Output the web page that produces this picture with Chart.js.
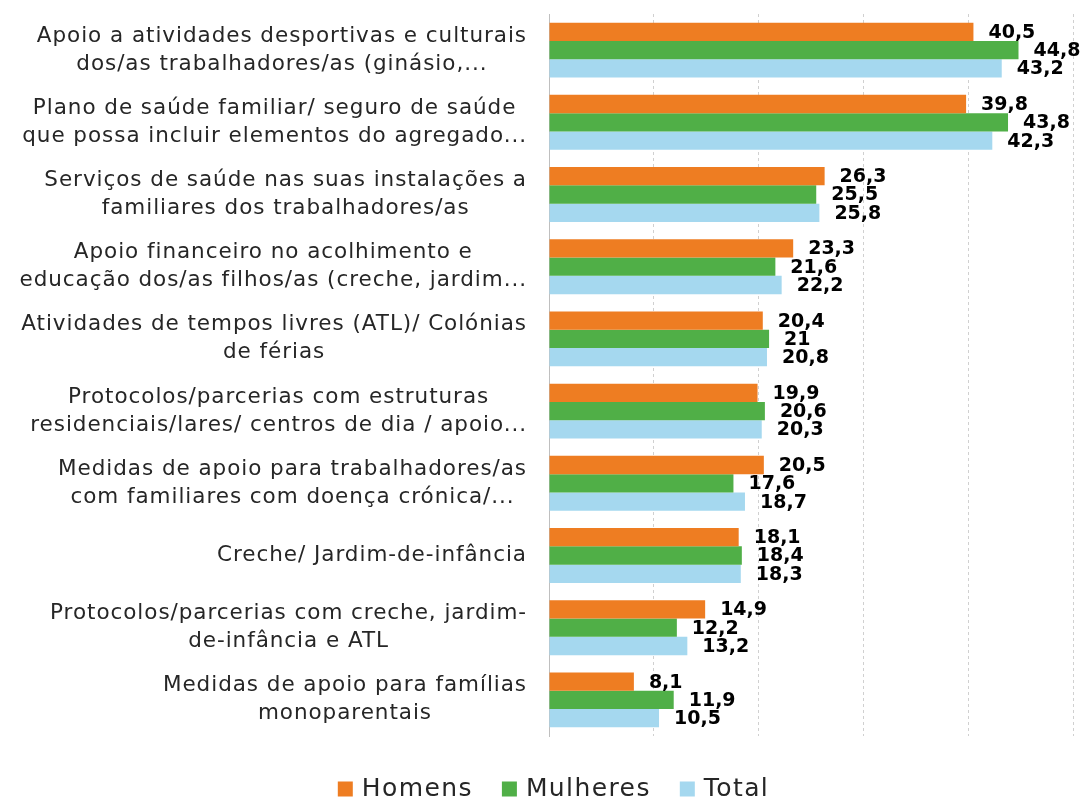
<!DOCTYPE html>
<html>
<head>
<meta charset="utf-8">
<script src="https://cdn.jsdelivr.net/npm/chart.js@4"></script>
<style>
  html, body { margin: 0; padding: 0; background: #fff; }
  #wrap { width: 1083px; height: 798px; position: relative; }
</style>
</head>
<body>
<div id="wrap"><canvas id="myChart"></canvas></div>
<script>
// dados
const categories = [
    ["Apoio a atividades desportivas e culturais", "dos/as trabalhadores/as (ginásio,..."],
    ["Plano de saúde familiar/ seguro de saúde", "que possa incluir elementos do agregado..."],
    ["Serviços de saúde nas suas instalações a", "familiares dos trabalhadores/as"],
    ["Apoio financeiro no acolhimento e", "educação dos/as filhos/as (creche, jardim..."],
    ["Atividades de tempos livres (ATL)/ Colónias", "de férias"],
    ["Protocolos/parcerias com estruturas", "residenciais/lares/ centros de dia / apoio..."],
    ["Medidas de apoio para trabalhadores/as", "com familiares com doença crónica/..."],
    ["Creche/ Jardim-de-infância"],
    ["Protocolos/parcerias com creche, jardim-", "de-infância e ATL"],
    ["Medidas de apoio para famílias", "monoparentais"]
];
const seriesNames = ["Homens", "Mulheres", "Total"];
const seriesColors = ['#EE7D22', '#50AF47', '#A5D8EF'];
const homens = [40.5, 39.8, 26.3, 23.3, 20.4, 19.9, 20.5, 18.1, 14.9, 8.1];
const mulheres = [44.8, 43.8, 25.5, 21.6, 21, 20.6, 17.6, 18.4, 12.2, 11.9];
const total = [43.2, 42.3, 25.8, 22.2, 20.8, 20.3, 18.7, 18.3, 13.2, 10.5];
const xTicks = [0, 10, 20, 30, 40, 50];

const FONT = "'DejaVu Sans', sans-serif";

// desenha as etiquetas das categorias (linhas centradas, bloco encostado ao eixo)
const categoryLabels = {
    id: 'categoryLabels',
    afterDraw(chart) {
        const ctx = chart.ctx;
        const yScale = chart.scales.y;
        const right = yScale.right - 22;
        const lh = 28;
        ctx.save();
        ctx.font = "21.5px " + FONT;
        ctx.letterSpacing = '0.95px';
        ctx.fillStyle = '#262626';
        ctx.textAlign = 'center';
        ctx.textBaseline = 'middle';
        categories.forEach(function (lines, i) {
            const y = yScale.getPixelForTick(i);
            let w = 0;
            lines.forEach(function (l) { w = Math.max(w, ctx.measureText(l).width); });
            const cx = right - w / 2;
            const y0 = y - (lines.length - 1) * lh / 2;
            lines.forEach(function (l, k) {
                ctx.fillText(l, cx, y0 + k * lh);
            });
        });
        ctx.restore();
    }
};

// valores à direita das barras
const valueLabels = {
    id: 'valueLabels',
    afterDatasetsDraw(chart) {
        const ctx = chart.ctx;
        ctx.save();
        ctx.font = "bold 19px " + FONT;
        ctx.fillStyle = '#000';
        ctx.textAlign = 'left';
        ctx.textBaseline = 'middle';
        chart.data.datasets.forEach(function (ds, di) {
            const meta = chart.getDatasetMeta(di);
            meta.data.forEach(function (bar, i) {
                const txt = String(ds.data[i]).replace('.', ',');
                ctx.fillText(txt, bar.x + 15, bar.y + 1);
            });
        });
        ctx.restore();
    }
};

// legenda em baixo
const bottomLegend = {
    id: 'bottomLegend',
    afterDraw(chart) {
        const ctx = chart.ctx;
        const box = 15, gap = 9, itemGap = 29;
        const yMid = chart.height - 9;
        ctx.save();
        ctx.font = "25px " + FONT;
        ctx.letterSpacing = '1.4px';
        ctx.textBaseline = 'middle';
        ctx.textAlign = 'left';
        const widths = seriesNames.map(function (n) { return ctx.measureText(n).width; });
        let totalW = 0;
        widths.forEach(function (w, i) { totalW += box + gap + w + (i < widths.length - 1 ? itemGap : 0); });
        let x = chart.width / 2 + 12 - totalW / 2;
        seriesNames.forEach(function (n, i) {
            ctx.fillStyle = chart.data.datasets[i].backgroundColor;
            ctx.fillRect(x, yMid - box / 2, box, box);
            ctx.fillStyle = '#262626';
            ctx.fillText(n, x + box + gap, yMid);
            x += box + gap + widths[i] + itemGap;
        });
        ctx.restore();
    }
};

const ctx = document.getElementById('myChart');
new Chart(ctx, {
    type: 'bar',
    data: {
        labels: categories,
        datasets: [
            { label: seriesNames[0], data: homens, backgroundColor: seriesColors[0] },
            { label: seriesNames[1], data: mulheres, backgroundColor: seriesColors[1] },
            { label: seriesNames[2], data: total, backgroundColor: seriesColors[2] }
        ]
    },
    options: {
        indexAxis: 'y',
        responsive: true,
        maintainAspectRatio: false,
        animation: false,
        datasets: {
            bar: { categoryPercentage: 0.76, barPercentage: 1.0 }
        },
        layout: { padding: { top: 14, right: 10, left: 0, bottom: 62 } },
        scales: {
            x: {
                min: xTicks[0],
                max: xTicks[xTicks.length - 1],
                afterBuildTicks: function (scale) {
                    scale.ticks = xTicks.map(function (v) { return { value: v }; });
                },
                ticks: { display: false },
                grid: { color: '#D0D0D0', drawTicks: false },
                border: { display: false, dash: [3, 3] },
                afterFit: function (scale) { scale.height = 0; }
            },
            y: {
                ticks: { display: false },
                grid: { display: false },
                border: { display: true, color: '#BFBFBF', width: 1 },
                afterFit: function (scale) { scale.width = 549; }
            }
        },
        plugins: {
            legend: { display: false },
            tooltip: { enabled: false }
        }
    },
    plugins: [categoryLabels, valueLabels, bottomLegend]
});
</script>
</body>
</html>
